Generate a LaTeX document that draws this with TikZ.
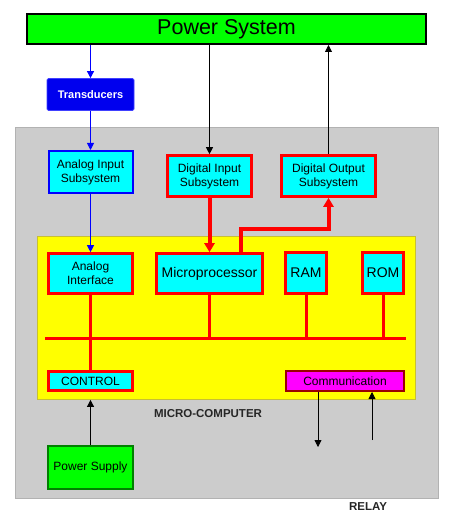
\documentclass[tikz,border=0pt]{standalone}
\usepackage{fontspec}
\setmainfont{Liberation Sans}
\usetikzlibrary{arrows.meta}
\definecolor{psgreen}{HTML}{00FF00}
\definecolor{boxcyan}{HTML}{00FFFF}
\definecolor{mcyellow}{HTML}{FFFF00}
\definecolor{casegray}{HTML}{CCCCCC}
\definecolor{transblue}{HTML}{0000EE}
\definecolor{commred}{HTML}{990000}
\definecolor{commpink}{HTML}{FF00FF}
\begin{document}
\begin{tikzpicture}[x=1pt,y=-1pt,
    unit/.style={draw=red,line width=2.6pt,fill=boxcyan,inner sep=0pt,align=center,
                 font=\fontsize{12}{14}\selectfont},
    redbus/.style={red,line width=3pt},
    redflow/.style={red,line width=4pt,-{Triangle[length=9pt,width=10pt]}},
    sig/.style={line width=0.8pt,-{Triangle[length=7pt,width=7pt]}},
    caption/.style={font=\fontsize{11.5}{13}\selectfont\bfseries,text=black!85}]
    \useasboundingbox (0,0) rectangle (461,521);
    % case of the relay
    \fill[casegray,draw=black!30,line width=0.8pt] (15,127) rectangle (438,498);

    \node[draw=black,line width=2pt,fill=psgreen,minimum width=399pt,minimum height=30pt,
          font=\fontsize{21.5}{24}\selectfont] (ps) at (226.5,29) {Power System};
    \node[draw=blue!75,line width=0.8pt,fill=transblue,rounded corners=1.5pt,text=white,
          minimum width=87pt,minimum height=32pt,font=\fontsize{11}{13}\selectfont\bfseries]
          (trans) at (90.5,94.5) {Transducers};

    \node[unit,draw=blue,line width=2pt,minimum width=84pt,minimum height=42pt] (ain) at (90.5,172) {Analog Input\\Subsystem};
    \node[unit,minimum width=84pt,minimum height=41pt] (din) at (209.5,176) {Digital Input\\Subsystem};
    \node[unit,minimum width=94pt,minimum height=41pt] (dout) at (328.5,176) {Digital Output\\Subsystem};

    % micro-computer board
    \node[draw=yellow!75!black,line width=0.8pt,fill=mcyellow,minimum width=378pt,
          minimum height=163pt] (mc) at (226.5,318) {};
    \node[unit,minimum width=84pt,minimum height=40pt] (aif) at (90.5,273.5) {Analog\\Interface};
    \node[unit,minimum width=106pt,minimum height=40pt,font=\fontsize{14}{16}\selectfont] (cpu) at (209.5,273.5) {Microprocessor};
    \node[unit,minimum width=41pt,minimum height=41pt,font=\fontsize{14}{16}\selectfont] (ram) at (306,273) {RAM};
    \node[unit,minimum width=41pt,minimum height=41pt,font=\fontsize{14}{16}\selectfont] (rom) at (383,273) {ROM};
    \node[unit,minimum width=84pt,minimum height=19pt] (ctrl) at (90.5,381) {CONTROL};
    \node[unit,draw=commred,line width=2pt,fill=commpink,minimum width=118pt,minimum height=20pt] (comm) at (345,381) {Communication};
    \coordinate (busL) at (45,338);
    \coordinate (busR) at (406,338);
    \coordinate (jog) at (241,229);

    \node[caption] (mclabel) at (208,414) {MICRO-COMPUTER};
    \node[draw=green!50!black,line width=2pt,fill=psgreen,inner sep=0pt,minimum width=85pt,
          minimum height=43pt,font=\fontsize{12}{13.5}\selectfont] (psu) at (90.5,467.5) {Power Supply};
    \node[caption] (relay) at (368,507) {RELAY};
    \coordinate (out) at (318,447);
    \coordinate (in) at (372,440);

    % analog path
    \draw[sig,blue] (ps.south -| trans) -- (trans.north);
    \draw[sig,blue] (trans.south) -- (ain.north);
    \draw[sig,blue] (ain.south) -- (aif.north);
    % digital path
    \draw[sig] (ps.south -| din) -- (din.north);
    \draw[sig] (dout.north) -- (ps.south -| dout);
    \draw[redflow] (din.south) -- (cpu.north);
    \draw[redflow] (cpu.north -| jog) -- (jog) -| (dout.south);
    % bus
    \draw[redbus] (busL) -- (busR);
    \draw[redbus] (aif.south) -- (ctrl.north);
    \draw[redbus] (cpu.south) -- (cpu.south |- busL);
    \draw[redbus] (ram.south) -- (ram.south |- busL);
    \draw[redbus] (rom.south) -- (rom.south |- busL);
    % supply and communication
    \draw[sig] (psu.north) -- (psu.north |- mc.south);
    \draw[sig] (comm.south -| out) -- (out);
    \draw[sig] (in) -- (comm.south -| in);
\end{tikzpicture}
\end{document}
